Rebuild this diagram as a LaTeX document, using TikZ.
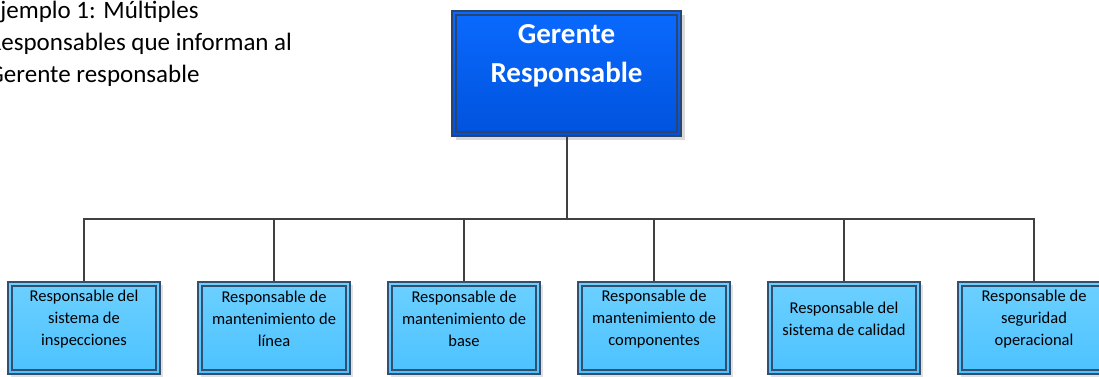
\documentclass[tikz,border=0pt]{standalone}
\usepackage{fontspec}
\setmainfont{Carlito}
\usetikzlibrary{shadows}
\definecolor{lineagris}{HTML}{404040}
\definecolor{bordejefe}{HTML}{2A4670}
\definecolor{azulsup}{HTML}{0A6AFF}
\definecolor{azulinf}{HTML}{0052DC}
\definecolor{borderesp}{HTML}{34506E}
\definecolor{celestesup}{HTML}{6CD0FF}
\definecolor{celesteinf}{HTML}{4CC2FF}
\tikzset{
  jefe/.style={draw=bordejefe,line width=1.5pt,top color=azulsup,bottom color=azulinf,
    minimum width=229pt,minimum height=125pt,inner sep=0pt,
    drop shadow={shadow xshift=4pt,shadow yshift=-4pt,fill=black!15,opacity=1},
    path picture={\draw[bordejefe,line width=1.2pt]
      ([shift={(4pt,4pt)}]path picture bounding box.south west) rectangle
      ([shift={(-4pt,-4pt)}]path picture bounding box.north east);}},
  resp/.style={draw=borderesp,line width=1.5pt,top color=celestesup,bottom color=celesteinf,
    minimum width=152pt,minimum height=92pt,inner sep=0pt,
    drop shadow={shadow xshift=3pt,shadow yshift=-3pt,fill=black!12,opacity=1},
    path picture={\draw[borderesp,line width=1.2pt]
      ([shift={(4pt,4pt)}]path picture bounding box.south west) rectangle
      ([shift={(-4pt,-4pt)}]path picture bounding box.north east);}},
  txtresp/.style={align=center,inner sep=0pt,text=black,font=\fontsize{16.5}{21.7}\selectfont},
  enlace/.style={draw=lineagris,line width=2pt},
}
\begin{document}
\begin{tikzpicture}[x=1pt,y=-1pt]
\useasboundingbox (0,0) rectangle (1099,376);
\clip (0,0) rectangle (1099,376);
% titulo
\node[anchor=north west,align=left,inner sep=0pt,font=\fontsize{25}{32}\selectfont] (titulo) at (-12,1)
  {Ejemplo 1: Múltiples\\Responsables que informan al\\Gerente responsable};
% gerente
\node[jefe] (jefe) at (566.5,73.5) {};
\node[align=center,inner sep=0pt,text=white,font=\bfseries\fontsize{29}{39}\selectfont] (tjefe) at (566.5,56) {Gerente\\Responsable};
% responsables
\node[resp] (r1) at (84,328) {};
\node[resp] (r2) at (274,328) {};
\node[resp] (r3) at (464,328) {};
\node[resp] (r4) at (654,328) {};
\node[resp] (r5) at (844,328) {};
\node[resp] (r6) at (1034,328) {};
\node[txtresp] (t1) at (84,319) {Responsable del\\sistema de\\inspecciones};
\node[txtresp] (t2) at (274,319) {Responsable de\\mantenimiento de\\línea};
\node[txtresp] (t3) at (464,319) {Responsable de\\mantenimiento de\\base};
\node[txtresp] (t4) at (654,319) {Responsable de\\mantenimiento de\\componentes};
\node[txtresp] (t5) at (844,319) {Responsable del\\sistema de calidad};
\node[txtresp] (t6) at (1034,319) {Responsable de\\seguridad\\operacional};
% conectores
\coordinate (bus) at (566.5,219);
\draw[enlace] (jefe.south) -- (bus);
\draw[enlace] (bus) -| (r1.north);
\draw[enlace] (bus) -| (r2.north);
\draw[enlace] (bus) -| (r3.north);
\draw[enlace] (bus) -| (r4.north);
\draw[enlace] (bus) -| (r5.north);
\draw[enlace] (bus) -| (r6.north);
\end{tikzpicture}
\end{document}
